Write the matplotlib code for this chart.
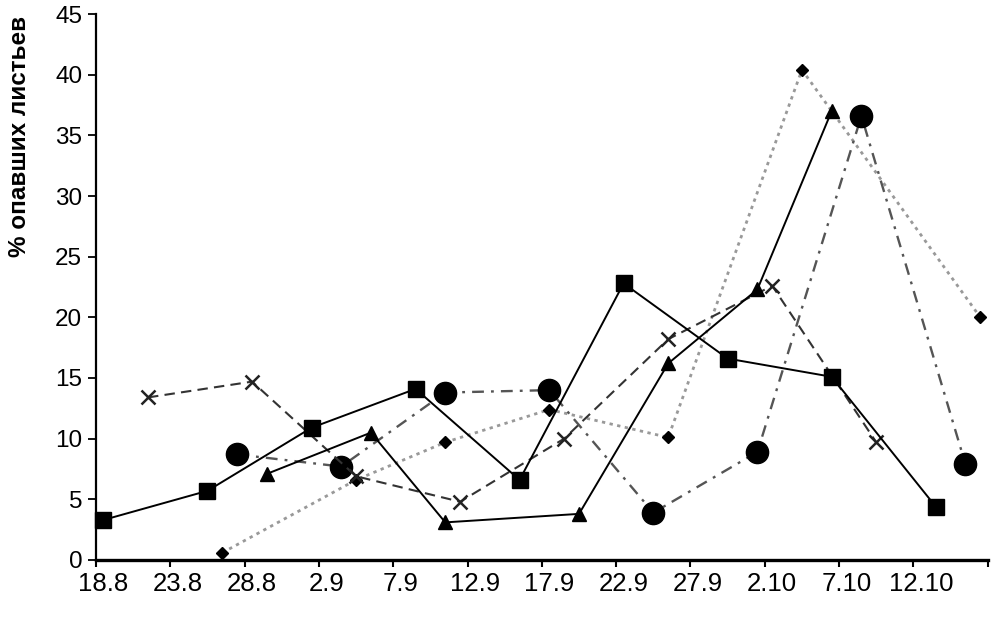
import matplotlib.pyplot as plt
from matplotlib.ticker import FixedLocator, NullFormatter
import numpy as np

# ── Data (day index counted from 18.8) ──────────────────────────────────────────
date_labels = ["18.8", "23.8", "28.8", "2.9", "7.9", "12.9", "17.9",
               "22.9", "27.9", "2.10", "7.10", "12.10"]
label_days = [0, 5, 10, 15, 20, 25, 30, 35, 40, 45, 50, 55]
n_days = 60

square_days = [0, 7, 14, 21, 28, 35, 42, 49, 56]
square_vals = [3.3, 5.7, 10.9, 14.1, 6.6, 22.8, 16.6, 15.1, 4.4]

triangle_days = [11, 18, 23, 32, 38, 44, 49]
triangle_vals = [7.1, 10.5, 3.1, 3.8, 16.2, 22.3, 37.0]

cross_days = [3, 10, 17, 24, 31, 38, 45, 52]
cross_vals = [13.4, 14.7, 6.9, 4.8, 10.0, 18.2, 22.6, 9.7]

circle_days = [9, 16, 23, 30, 37, 44, 51, 58]
circle_vals = [8.7, 7.7, 13.8, 14.0, 3.9, 8.9, 36.6, 7.9]

diamond_days = [8, 17, 23, 30, 38, 47, 59]
diamond_vals = [0.6, 6.6, 9.7, 12.4, 10.1, 40.4, 20.0]

FONT = "Liberation Sans"

fig = plt.figure(figsize=(9.93, 6.2), dpi=100)
ax = fig.add_axes([0.0967, 0.0968, 0.898, 0.8806])


def xs(days):
    # points sit in the middle of each day slot
    return np.array(days) + 0.5


ax.plot(xs(diamond_days), diamond_vals, color="#999999", linestyle=(0, (1.2, 1.6)),
        linewidth=2.0, marker="D", markersize=6.5, markerfacecolor="black",
        markeredgecolor="black", clip_on=False, zorder=2)
ax.plot(xs(circle_days), circle_vals, color="#555555", linestyle=(0, (5, 3, 1.2, 3)),
        linewidth=1.7, marker="o", markersize=16, markerfacecolor="black",
        markeredgecolor="black", clip_on=False, zorder=3)
ax.plot(xs(cross_days), cross_vals, color="#333333", linestyle=(0, (5, 3)),
        linewidth=1.5, marker="x", markersize=10, markeredgewidth=1.8,
        markeredgecolor="#222222", clip_on=False, zorder=3)
ax.plot(xs(triangle_days), triangle_vals, color="black", linestyle="-",
        linewidth=1.4, marker="^", markersize=10, markerfacecolor="black",
        markeredgecolor="black", clip_on=False, zorder=4)
ax.plot(xs(square_days), square_vals, color="black", linestyle="-",
        linewidth=1.4, marker="s", markersize=12, markerfacecolor="black",
        markeredgecolor="black", clip_on=False, zorder=4)

# ── Axes styling ────────────────────────────────────────────────────────────────
ax.set_xlim(0, n_days)
ax.set_ylim(0, 45)
ax.set_yticks(np.arange(0, 46, 5))

ax.xaxis.set_major_locator(FixedLocator(np.arange(0, n_days + 1, 5)))
ax.xaxis.set_major_formatter(NullFormatter())
ax.xaxis.set_minor_locator(FixedLocator(xs(label_days)))
ax.set_xticklabels(date_labels, minor=True)
ax.tick_params(axis="x", which="major", length=5, width=1.5, direction="out")
ax.tick_params(axis="x", which="minor", length=0, pad=9)
ax.tick_params(axis="y", length=6, width=1.3, direction="out", pad=4)

for lab in ax.get_xticklabels(minor=True):
    lab.set_fontfamily(FONT)
    lab.set_fontsize(18.5)
for lab in ax.get_yticklabels():
    lab.set_fontfamily(FONT)
    lab.set_fontsize(17.5)

ax.spines["top"].set_visible(False)
ax.spines["right"].set_visible(False)
ax.spines["left"].set_linewidth(1.6)
ax.spines["bottom"].set_linewidth(2.4)

ax.set_ylabel("% опавших листьев", fontfamily=FONT, fontsize=17.5,
              fontweight="bold")
ax.yaxis.set_label_coords(-0.073, 0.775)

fig.savefig("out.png", dpi=100)
